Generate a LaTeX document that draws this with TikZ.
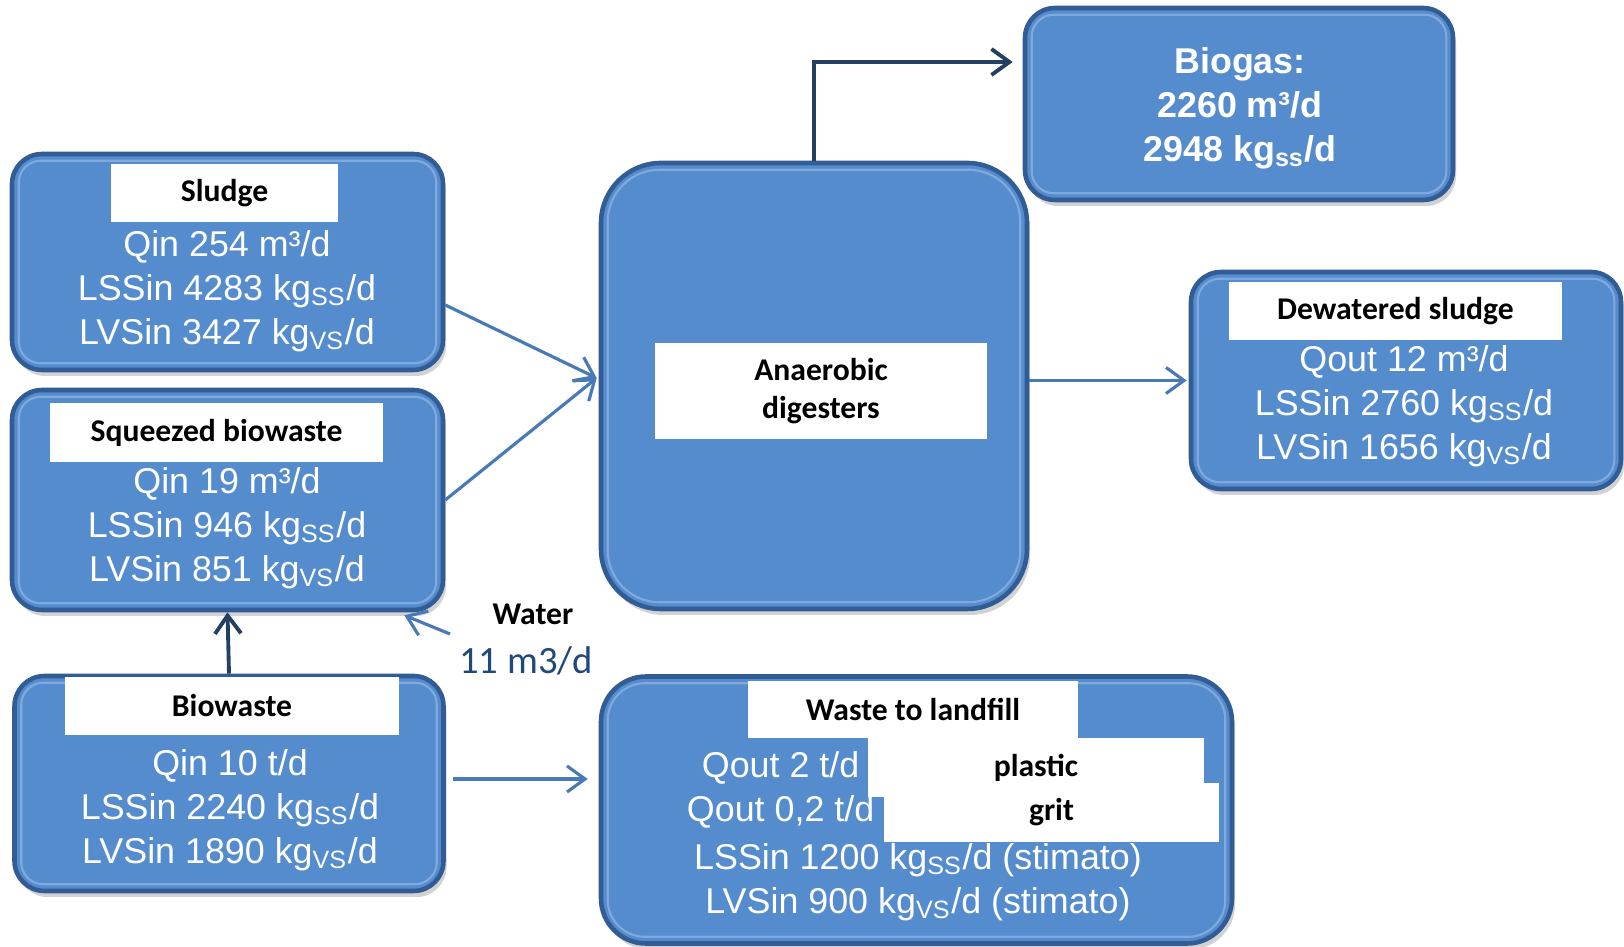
\documentclass[tikz,border=0pt]{standalone}
\usepackage{fontspec}
\setmainfont{Liberation Sans}
\newfontfamily\calibri{Carlito}
\usepackage{xcolor}
\definecolor{boxfill}{RGB}{84,140,205}
\definecolor{boxedge}{RGB}{50,92,150}
\definecolor{boxbevel}{RGB}{128,170,222}
\definecolor{flowblue}{RGB}{74,122,182}
\definecolor{flownavy}{RGB}{36,64,97}
\definecolor{textnavy}{RGB}{31,73,125}
\usepackage{tikz}
\usetikzlibrary{arrows.meta, calc, shadows}

\tikzset{
  blockbox/.style={draw=boxedge, line width=1.3pt, fill=boxfill, rounded corners=3mm, inner sep=0pt,
    drop shadow={shadow xshift=0.3mm, shadow yshift=-0.6mm, opacity=0.25, fill=black!70}},
  bevelline/.style={draw=boxbevel, line width=0.6pt, rounded corners=2.2mm},
  labelbox/.style={fill=white, inner sep=0pt, text=black, align=center,
    font=\calibri\bfseries\fontsize{9}{11}\selectfont},
  datatext/.style={text=white, align=center, inner sep=0pt, font=\fontsize{10.2}{12.5}\selectfont},
  flowarrow/.style={draw=flowblue, line width=0.9pt, -{Straight Barb[length=1.8mm, width=2.6mm]}},
  mainarrow/.style={draw=flownavy, line width=1.1pt, -{Straight Barb[length=1.8mm, width=2.6mm]}},
}

\begin{document}
\begin{tikzpicture}[x=0.1mm, y=-0.1mm]
  \useasboundingbox (0,0) rectangle (1624,947);

  % --- Boxes ---
  \node[blockbox, minimum width=4.31cm, minimum height=2.16cm] (sludge) at (227.5,262) {};
  \node[blockbox, minimum width=4.31cm, minimum height=2.20cm] (squeezed) at (227.5,500) {};
  \node[blockbox, minimum width=4.29cm, minimum height=2.15cm] (biowaste) at (229,783.5) {};
  \node[blockbox, minimum width=4.26cm, minimum height=4.46cm, rounded corners=6mm] (digester) at (814,386) {};
  \node[blockbox, minimum width=4.28cm, minimum height=1.92cm] (biogas) at (1239,104) {};
  \node[blockbox, minimum width=4.30cm, minimum height=2.17cm] (dewatered) at (1406,380.5) {};
  \node[blockbox, minimum width=6.31cm, minimum height=2.67cm, rounded corners=4.5mm] (waste) at (916.5,810) {};

  % bevel lines
  \draw[bevelline] ($(sludge.north west)+(9,9)$) rectangle ($(sludge.south east)+(-9,-9)$);
  \draw[bevelline] ($(squeezed.north west)+(9,9)$) rectangle ($(squeezed.south east)+(-9,-9)$);
  \draw[bevelline] ($(biowaste.north west)+(9,9)$) rectangle ($(biowaste.south east)+(-9,-9)$);
  \draw[bevelline, rounded corners=5.2mm] ($(digester.north west)+(9,9)$) rectangle ($(digester.south east)+(-9,-9)$);
  \draw[bevelline] ($(biogas.north west)+(9,9)$) rectangle ($(biogas.south east)+(-9,-9)$);
  \draw[bevelline] ($(dewatered.north west)+(9,9)$) rectangle ($(dewatered.south east)+(-9,-9)$);
  \draw[bevelline, rounded corners=3.7mm] ($(waste.north west)+(9,9)$) rectangle ($(waste.south east)+(-9,-9)$);

  % --- Left column ---
  \node[labelbox, minimum width=2.27cm, minimum height=0.58cm] (sludgelbl) at (224.5,193) {Sludge};
  \node[datatext] (sludgetxt) at (227,291)
    {Qin 254 m³/d\\LSSin 4283 kg\textsubscript{SS}/d\\LVSin 3427 kg\textsubscript{VS}/d};

  \node[labelbox, minimum width=3.33cm, minimum height=0.59cm] (squeezedlbl) at (216.5,432.5) {Squeezed biowaste};
  \node[datatext] (squeezedtxt) at (227,528)
    {Qin 19 m³/d\\LSSin 946 kg\textsubscript{SS}/d\\LVSin 851 kg\textsubscript{VS}/d};

  \node[labelbox, minimum width=3.34cm, minimum height=0.58cm] (biowastelbl) at (232,706) {Biowaste};
  \node[datatext] (biowastetxt) at (230,810)
    {Qin 10 t/d\\LSSin 2240 kg\textsubscript{SS}/d\\LVSin 1890 kg\textsubscript{VS}/d};

  % water inlet
  \node[labelbox, fill=none] (water) at (533,614) {Water};
  \node[inner sep=0pt, text=textnavy, font=\calibri\fontsize{11}{13}\selectfont] (waterq) at (526,661) {11 m3/d};
  \coordinate (waterin) at (450,634);

  % --- Digester ---
  \node[labelbox, minimum width=3.32cm, minimum height=0.96cm] (digesterlbl) at (821,391) {Anaerobic\\digesters};

  % --- Outputs ---
  \node[datatext, font=\bfseries\fontsize{10.2}{12.5}\selectfont] (biogastxt) at (1240,108)
    {Biogas:\\2260 m³/d\\2948 kg\textsubscript{ss}/d};

  \node[labelbox, minimum width=3.33cm, minimum height=0.58cm] (dewateredlbl) at (1395.5,311) {Dewatered sludge};
  \node[datatext] (dewateredtxt) at (1404,406)
    {Qout 12 m³/d\\LSSin 2760 kg\textsubscript{SS}/d\\LVSin 1656 kg\textsubscript{VS}/d};

  \node[labelbox, minimum width=3.30cm, minimum height=0.57cm] (wastelbl) at (913,709.5) {Waste to landfill};
  \node[datatext, anchor=east] (plasticq) at (860,768) {Qout 2 t/d};
  \node[datatext, anchor=east] (gritq) at (875,812) {Qout 0,2 t/d};
  \node[datatext] (wastetxt) at (918,882)
    {LSSin 1200 kg\textsubscript{SS}/d (stimato)\\LVSin 900 kg\textsubscript{VS}/d (stimato)};
  \node[labelbox, minimum width=3.36cm, minimum height=0.59cm] (plasticlbl) at (1036,767.5) {plastic};
  \node[labelbox, minimum width=3.35cm, minimum height=0.59cm] (gritlbl) at (1051.5,812.5) {grit};

  % --- Connectors ---
  \draw[flowarrow] ([yshift=-4.3mm]sludge.east) -- ([xshift=-0.2mm, yshift=0.8mm]digester.west);
  \draw[flowarrow] (squeezed.east) -- ([xshift=-0.2mm, yshift=0.8mm]digester.west);
  \draw[flowarrow] (dewatered.west -| digester.east) -- ([xshift=-0.2mm]dewatered.west);
  \draw[mainarrow] (digester.north) |- ([xshift=-1mm, yshift=4.2mm]biogas.west);
  \draw[mainarrow] (biowaste.north) -- (squeezed.south);
  \draw[flowarrow] (waterin) -- ([xshift=-4.1mm, yshift=-0.3mm]squeezed.south east);
  \draw[flowarrow] ($(biowaste.east)+(7,-4.5)$) -- ($(biowaste.east -| waste.west)+(-11,-4.5)$);
\end{tikzpicture}
\end{document}
